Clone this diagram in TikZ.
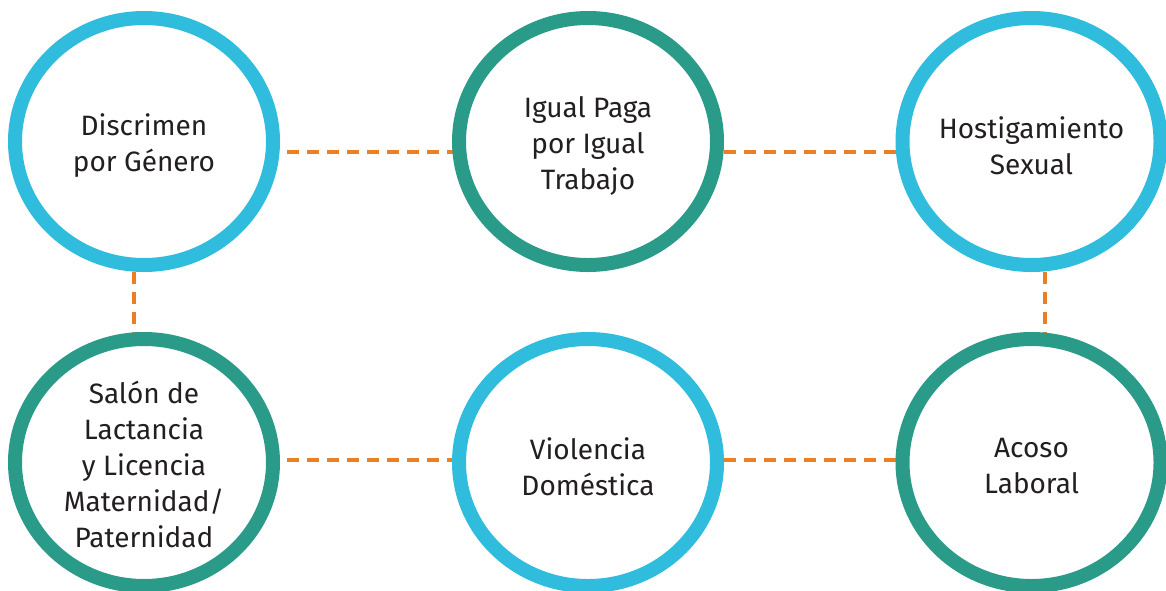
\documentclass[tikz,border=0pt]{standalone}
\usepackage{fontspec}
\setmainfont{Fira Sans}
\usetikzlibrary{shapes.geometric,backgrounds}
\definecolor{ringblue}{RGB}{48,188,220}
\definecolor{ringteal}{RGB}{42,155,137}
\definecolor{dashorange}{RGB}{236,127,35}
\definecolor{txt}{RGB}{35,31,32}
\begin{document}
\begin{tikzpicture}[x=1pt,y=-1pt,
  ring/.style={ellipse, draw, line width=14pt, fill=white,
    minimum width=258pt, minimum height=247pt, inner sep=0pt},
  blue ring/.style={ring, draw=ringblue},
  teal ring/.style={ring, draw=ringteal},
  conn/.style={draw=dashorange, line width=4pt, dash pattern=on 12pt off 8pt},
  lbl/.style={align=center, text=txt, yshift=-4pt, font=\fontsize{28}{36}\selectfont}]
\useasboundingbox (0,0) rectangle (1166,590);
\clip (0,0) rectangle (1166,590);
\node[blue ring, label={[lbl]center:{Discrimen\\por Género}}] (a) at (144,141.5) {};
\node[teal ring, label={[lbl]center:{Igual Paga\\por Igual\\Trabajo}}] (b) at (588,141.5) {};
\node[blue ring, label={[lbl]center:{Hostigamiento\\Sexual}}] (c) at (1031.5,141.5) {};
\node[teal ring, label={[lbl,yshift=2pt]center:{Salón de\\Lactancia\\y Licencia\\Maternidad/\\Paternidad}}] (d) at (144,462.5) {};
\node[blue ring, label={[lbl]center:{Violencia\\Doméstica}}] (e) at (588,462.5) {};
\node[teal ring, label={[lbl]center:{Acoso\\Laboral}}] (f) at (1031.5,462.5) {};
\begin{scope}[on background layer]
\draw[conn, dash phase=17pt] ([yshift=-10.5pt]a.center) -- ([yshift=-10.5pt]b.center);
\draw[conn, dash phase=4pt] ([yshift=-10.5pt]b.center) -- ([yshift=-10.5pt]c.center);
\draw[conn, dash phase=17pt] ([yshift=2.5pt]d.center) -- ([yshift=2.5pt]e.center);
\draw[conn, dash phase=4pt] ([yshift=2.5pt]e.center) -- ([yshift=2.5pt]f.center);
\draw[conn, dash phase=9.5pt] ([xshift=-10pt]a.center) -- ([xshift=-10pt]d.center);
\draw[conn, dash phase=9.5pt] ([xshift=13.5pt]c.center) -- ([xshift=13.5pt]f.center);
\end{scope}
\end{tikzpicture}
\end{document}
